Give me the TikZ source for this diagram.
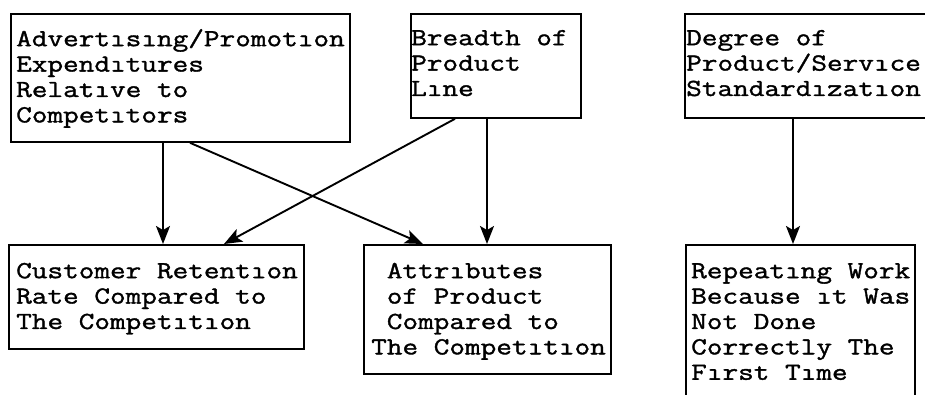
\documentclass[tikz,border=0pt]{standalone}
\usepackage{fontspec}
\newfontfamily\boxfont[FakeBold=1.4,FakeStretch=1.24]{Latin Modern Mono}
\usetikzlibrary{arrows.meta}
\begin{document}
\begin{tikzpicture}[x=1pt,y=-1pt,
  box/.style={draw, line width=1.8pt, inner sep=0pt, anchor=north west},
  txt/.style={inner sep=0pt, anchor=north west, align=left,
    font=\boxfont\fontsize{24.5}{25.4}\selectfont},
  arr/.style={line width=1.9pt, -{Stealth[length=18pt,width=14pt,inset=4pt]}}]
\useasboundingbox (0,0) rectangle (925,394);

% boxes of the upper row
\node[box, minimum width=339pt, minimum height=128pt] (a) at (10,13) {};
\node[box, minimum width=170pt, minimum height=104pt] (b) at (410,13) {};
\node[box, minimum width=260pt, minimum height=104pt] (c) at (684,13) {};
% boxes of the lower row
\node[box, minimum width=295pt, minimum height=104pt] (d) at (8,244) {};
\node[box, minimum width=247pt, minimum height=129pt] (e) at (363,244) {};
\node[box, minimum width=229pt, minimum height=170pt] (f) at (685,244) {};

% box texts (top = first baseline - 0.7 baselineskip)
\node[txt] (ta) at (16,28.2) {\strut Advertısıng/Promotıon\\Expendıtures\\Relatıve to\\Competıtors};
\node[txt] (tb) at (411,27.2) {\strut Breadth of\\Product\\Lıne};
\node[txt] (tc) at (686,27.2) {\strut Degree of\\Product/Servıce\\Standardızatıon};
\node[txt] (td) at (16,260.2) {\strut Customer Retentıon\\Rate Compared to\\The Competıtıon};
\node[txt] (te) at (371,260.2) {\strut\hphantom{A}Attrıbutes\\\hphantom{A}of Product\\\hphantom{A}Compared to\\The Competıtıon};
\node[txt] (tf) at (691,260.2) {\strut Repeatıng Work\\Because ıt Was\\Not Done\\Correctly The\\Fırst Tıme};

% connectors
\draw[arr] ([xshift=153pt]a.south west) -- ([xshift=155pt]d.north west);
\draw[arr] ([xshift=180pt]a.south west) -- ([xshift=60pt]e.north west);
\draw[arr] ([xshift=45pt]b.south west) -- ([xshift=216pt]d.north west);
\draw[arr] ([xshift=77pt]b.south west) -- ([xshift=124pt]e.north west);
\draw[arr] ([xshift=109pt]c.south west) -- ([xshift=108pt]f.north west);
\end{tikzpicture}
\end{document}
